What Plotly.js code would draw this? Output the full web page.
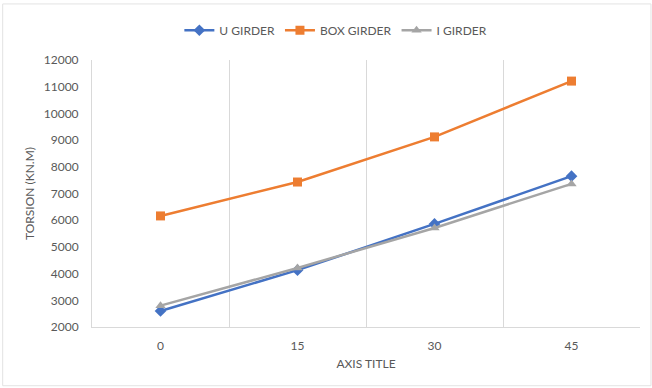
<!DOCTYPE html>
<html><head><meta charset="utf-8">
<script src="https://cdn.plot.ly/plotly-3.0.1.min.js"></script>
<style>html,body{margin:0;padding:0;background:#fff}#c{width:652px;height:388px}</style>
</head><body><div id="c"></div>
<script>
const categories = ["0", "15", "30", "45"];
const uGirder = [2600, 4130, 5860, 7650];
const boxGirder = [6160, 7430, 9120, 11210];
const iGirder = [2800, 4210, 5710, 7360];
const seriesNames = ["U GIRDER", "BOX GIRDER", "I GIRDER"];

const fam = "Lato, Open Sans, sans-serif";
const grey = "#595959";
const traces = [
  {x: categories, y: uGirder, name: seriesNames[0], type: "scatter", mode: "lines+markers",
   line: {color: "#4472C4", width: 2.5}, marker: {symbol: "diamond", size: 9, color: "#4472C4"}},
  {x: categories, y: boxGirder, name: seriesNames[1], type: "scatter", mode: "lines+markers",
   line: {color: "#ED7D31", width: 2.5}, marker: {symbol: "square", size: 9, color: "#ED7D31"}},
  {x: categories, y: iGirder, name: seriesNames[2], type: "scatter", mode: "lines+markers",
   line: {color: "#A5A5A5", width: 2.5}, marker: {symbol: "triangle-up", size: 9, color: "#A5A5A5"}}
];
const layout = {
  width: 652, height: 388,
  margin: {l: 92, r: 12, t: 60, b: 61, autoexpand: false},
  paper_bgcolor: "#fff", plot_bgcolor: "#fff",
  font: {family: fam, size: 12, color: grey},
  showlegend: true,
  legend: {orientation: "h", x: 0.445, xanchor: "center", yref: "container", y: 0.922, yanchor: "middle",
           font: {family: fam, size: 12, color: grey}},
  xaxis: {type: "category", range: [-0.5, 3.5], tickson: "boundaries", showgrid: true, gridcolor: "#D9D9D9", gridwidth: 1,
          ticks: "", showline: true, linecolor: "#D9D9D9", linewidth: 1,
          zeroline: false, ticklabelstandoff: 8, tickfont: {family: fam, size: 12, color: grey},
          title: {text: "AXIS TITLE", standoff: 7, font: {family: fam, size: 12, color: grey}}},
  yaxis: {range: [2000, 12000], dtick: 1000, tickformat: "d", showgrid: false, showline: true, linecolor: "#D9D9D9",
          ticks: "", zeroline: false, tickfont: {family: fam, size: 12, color: grey},
          ticklabelstandoff: 10,
          title: {text: "TORSION (KN.M)", standoff: 6, font: {family: fam, size: 12, color: grey}}},
  shapes: [{type: "rect", xref: "paper", yref: "paper", x0: -0.163, x1: 1.02, y0: -0.22, y1: 1.21,
            line: {color: "#E3E3E3", width: 1}, fillcolor: "rgba(0,0,0,0)", layer: "below"}]
};
Plotly.newPlot("c", traces, layout, {displayModeBar: false, staticPlot: true});
</script></body></html>
